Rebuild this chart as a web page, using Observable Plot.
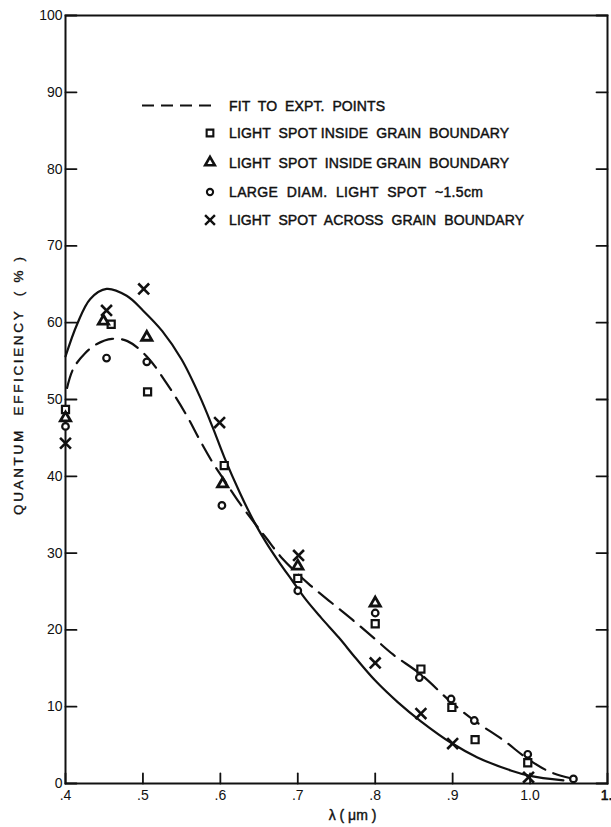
<!DOCTYPE html>
<html><head><meta charset="utf-8">
<script src="https://cdn.jsdelivr.net/npm/d3@7"></script>
<script src="https://cdn.jsdelivr.net/npm/@observablehq/plot@0.6"></script>
<style>html,body{margin:0;padding:0;background:#fff;overflow:hidden}</style>
</head><body><div id="chart"></div>
<script>
// ---- axes ----
const xTicks = [0.4, 0.5, 0.6, 0.7, 0.8, 0.9, 1.0, 1.1];
const xTickLabels = [".4", ".5", ".6", ".7", ".8", ".9", "1.0", "1."];
const yTicks = [0, 10, 20, 30, 40, 50, 60, 70, 80, 90, 100];
const yTickLabels = ["0", "10", "20", "30", "40", "50", "60", "70", "80", "90", "100"];
const xLabel = "λ ( μm )";
const yLabel = "QUANTUM  EFFICIENCY  ( % )";

// ---- curves ----
const solidX = [0.400, 0.415, 0.432, 0.453, 0.479, 0.500, 0.525, 0.550, 0.573, 0.590, 0.605, 0.625, 0.644, 0.659, 0.676, 0.693, 0.710, 0.730, 0.753, 0.775, 0.800, 0.829, 0.859, 0.898, 0.932, 0.975, 1.000, 1.043];
const solidY = [55.6, 59.8, 63.1, 64.4, 63.5, 61.6, 58.9, 55.2, 50.5, 46.4, 42.5, 37.9, 34.0, 31.4, 28.8, 26.4, 24.0, 21.6, 19.0, 16.3, 13.4, 10.6, 8.1, 5.3, 3.4, 1.7, 1.0, 0.4];
const dashedX = [0.402, 0.410, 0.425, 0.440, 0.460, 0.480, 0.505, 0.530, 0.556, 0.573, 0.590, 0.605, 0.625, 0.645, 0.659, 0.680, 0.714, 0.744, 0.772, 0.800, 0.823, 0.859, 0.898, 0.928, 0.966, 0.997, 1.026, 1.056];
const dashedY = [51.5, 54.0, 56.0, 57.2, 57.9, 57.6, 55.6, 52.2, 48.0, 44.8, 41.8, 39.5, 36.5, 33.8, 32.0, 29.3, 26.0, 23.5, 21.2, 18.8, 16.8, 14.2, 10.6, 8.2, 5.6, 3.2, 1.5, 0.6];

// ---- points ----
const squareX = [0.400, 0.459, 0.506, 0.605, 0.700, 0.800, 0.859, 0.899, 0.929, 0.997];
const squareY = [48.7, 59.8, 51.0, 41.4, 26.7, 20.8, 14.9, 9.9, 5.7, 2.7];
const triangleX = [0.400, 0.449, 0.505, 0.603, 0.700, 0.800];
const triangleY = [47.6, 60.2, 58.1, 39.0, 28.3, 23.5];
const circleX = [0.400, 0.453, 0.505, 0.602, 0.700, 0.800, 0.857, 0.898, 0.928, 0.997, 1.056];
const circleY = [46.5, 55.4, 54.9, 36.2, 25.1, 22.2, 13.8, 11.0, 8.2, 3.8, 0.6];
const crossX = [0.400, 0.453, 0.501, 0.599, 0.701, 0.800, 0.859, 0.900, 0.998];
const crossY = [44.3, 61.6, 64.4, 47.0, 29.7, 15.7, 9.1, 5.2, 0.8];

// ---- legend ----
const legendLabels = [
  "FIT  TO  EXPT.  POINTS",
  "LIGHT  SPOT INSIDE  GRAIN  BOUNDARY",
  "LIGHT  SPOT  INSIDE GRAIN  BOUNDARY",
  "LARGE  DIAM.  LIGHT  SPOT  ~1.5cm",
  "LIGHT  SPOT  ACROSS  GRAIN  BOUNDARY"
];
const legendSymbols = ["dash", "square", "triangle", "circle", "times"];

const FONT = "Liberation Sans, Arial, sans-serif";
const tickShape = {draw(ctx, l) { ctx.moveTo(0, 0); ctx.lineTo(0, -l); }};
const ink = "#111";
const pointStyle = {stroke: ink, strokeWidth: 2.2, fill: "white"};
const lastX = xTicks[xTicks.length - 1];
const bold = {fill: ink, stroke: ink, strokeWidth: 0.6};

const plot = Plot.plot({
  width: 611,
  height: 827,
  marginLeft: 65,
  marginRight: 4,
  marginTop: 15,
  marginBottom: 44,
  style: {fontFamily: FONT, fontSize: "14px", color: ink, background: "white", overflow: "visible"},
  x: {domain: [0.4, 1.1]},
  y: {domain: [0, 100]},
  marks: [
    Plot.axisX({ticks: xTicks.slice(0, -1), tickFormat: (d) => xTickLabels[xTicks.indexOf(d)], tickSize: 0, tickPadding: 7, label: null, fontSize: 14, ...bold}),
    Plot.text([xTickLabels[xTickLabels.length - 1]], {x: () => lastX, frameAnchor: "bottom", textAnchor: "end", lineAnchor: "top", dx: 5, dy: 7, fontSize: 14, ...bold}),
    Plot.axisY({ticks: yTicks, tickFormat: (d) => yTickLabels[yTicks.indexOf(d)], tickSize: 0, tickPadding: 3, label: null, fontSize: 14, ...bold}),
    Plot.frame({stroke: ink, strokeWidth: 2}),
    Plot.vector(yTicks, {x: () => xTicks[0], y: d => d, length: 11, rotate: 90, anchor: "start", shape: tickShape, stroke: ink, strokeWidth: 1.8}),
    Plot.vector(yTicks, {x: () => lastX, y: d => d, length: 11, rotate: -90, anchor: "start", shape: tickShape, stroke: ink, strokeWidth: 1.8}),
    Plot.vector(xTicks, {x: d => d, y: () => yTicks[0], length: 10, rotate: 0, anchor: "start", shape: tickShape, stroke: ink, strokeWidth: 1.8}),
    Plot.line(solidX.map((x, i) => ({x, y: solidY[i]})), {x: "x", y: "y", curve: "catmull-rom", stroke: ink, strokeWidth: 2.2}),
    Plot.line(dashedX.map((x, i) => ({x, y: dashedY[i]})), {x: "x", y: "y", curve: "catmull-rom", stroke: ink, strokeWidth: 2.2, strokeDasharray: "18,9"}),
    Plot.dot(squareY, {x: squareX, y: squareY, symbol: "square", r: 4.0, ...pointStyle}),
    Plot.dot(triangleY, {x: triangleX, y: triangleY, symbol: "triangle", r: 3.8, ...pointStyle, strokeWidth: 2.8}),
    Plot.dot(circleY, {x: circleX, y: circleY, symbol: "circle", r: 3.3, ...pointStyle}),
    Plot.dot(crossY, {x: crossX, y: crossY, symbol: "times", r: 5.0, stroke: ink, strokeWidth: 2.6}),
    Plot.text([xLabel], {frameAnchor: "bottom", dx: 16, dy: 36, fontSize: 14, ...bold, strokeWidth: 0.4})
  ]
});

const svg = d3.select(plot);

// y-axis title (rotated)
svg.append("text")
  .attr("transform", "translate(18,386) rotate(-90)")
  .attr("text-anchor", "middle").attr("dy", "0.35em")
  .attr("font-family", FONT).attr("font-size", 13.5)
  .attr("fill", ink).attr("stroke", ink).attr("stroke-width", 0.35)
  .attr("textLength", 258).attr("lengthAdjust", "spacing")
  .text(yLabel);

// legend drawn inside the frame
const lg = svg.append("g").attr("font-family", FONT).attr("font-size", 14).attr("fill", ink).attr("text-anchor", "start");
const rowY = [105.5, 133, 162.5, 192, 220];
const rowLen = [156, 280, 280, 254, 295];
legendLabels.forEach((label, i) => {
  const y = rowY[i];
  const sym = legendSymbols[i];
  if (sym === "dash") {
    lg.append("line").attr("x1", 142).attr("x2", 211).attr("y1", y).attr("y2", y)
      .attr("stroke", ink).attr("stroke-width", 2.2).attr("stroke-dasharray", "12,7");
  } else {
    const type = {square: d3.symbolSquare, triangle: d3.symbolTriangle, circle: d3.symbolCircle, times: d3.symbolTimes}[sym];
    const size = {square: 45, triangle: 40, circle: 30, times: 65}[sym];
    const isCross = sym === "times";
    lg.append("path").attr("d", d3.symbol(type, size)())
      .attr("transform", `translate(210,${y})`)
      .attr("fill", isCross ? "none" : "white").attr("stroke", ink)
      .attr("stroke-width", isCross ? 2.4 : (sym === "triangle" ? 2.6 : 2.1));
  }
  lg.append("text").attr("x", 229).attr("y", y).attr("dy", "0.36em")
    .attr("text-anchor", "start")
    .attr("stroke", ink).attr("stroke-width", 0.45)
    .attr("textLength", rowLen[i]).attr("lengthAdjust", "spacing")
    .text(label);
});

document.getElementById("chart").appendChild(plot);
</script>
</body></html>
